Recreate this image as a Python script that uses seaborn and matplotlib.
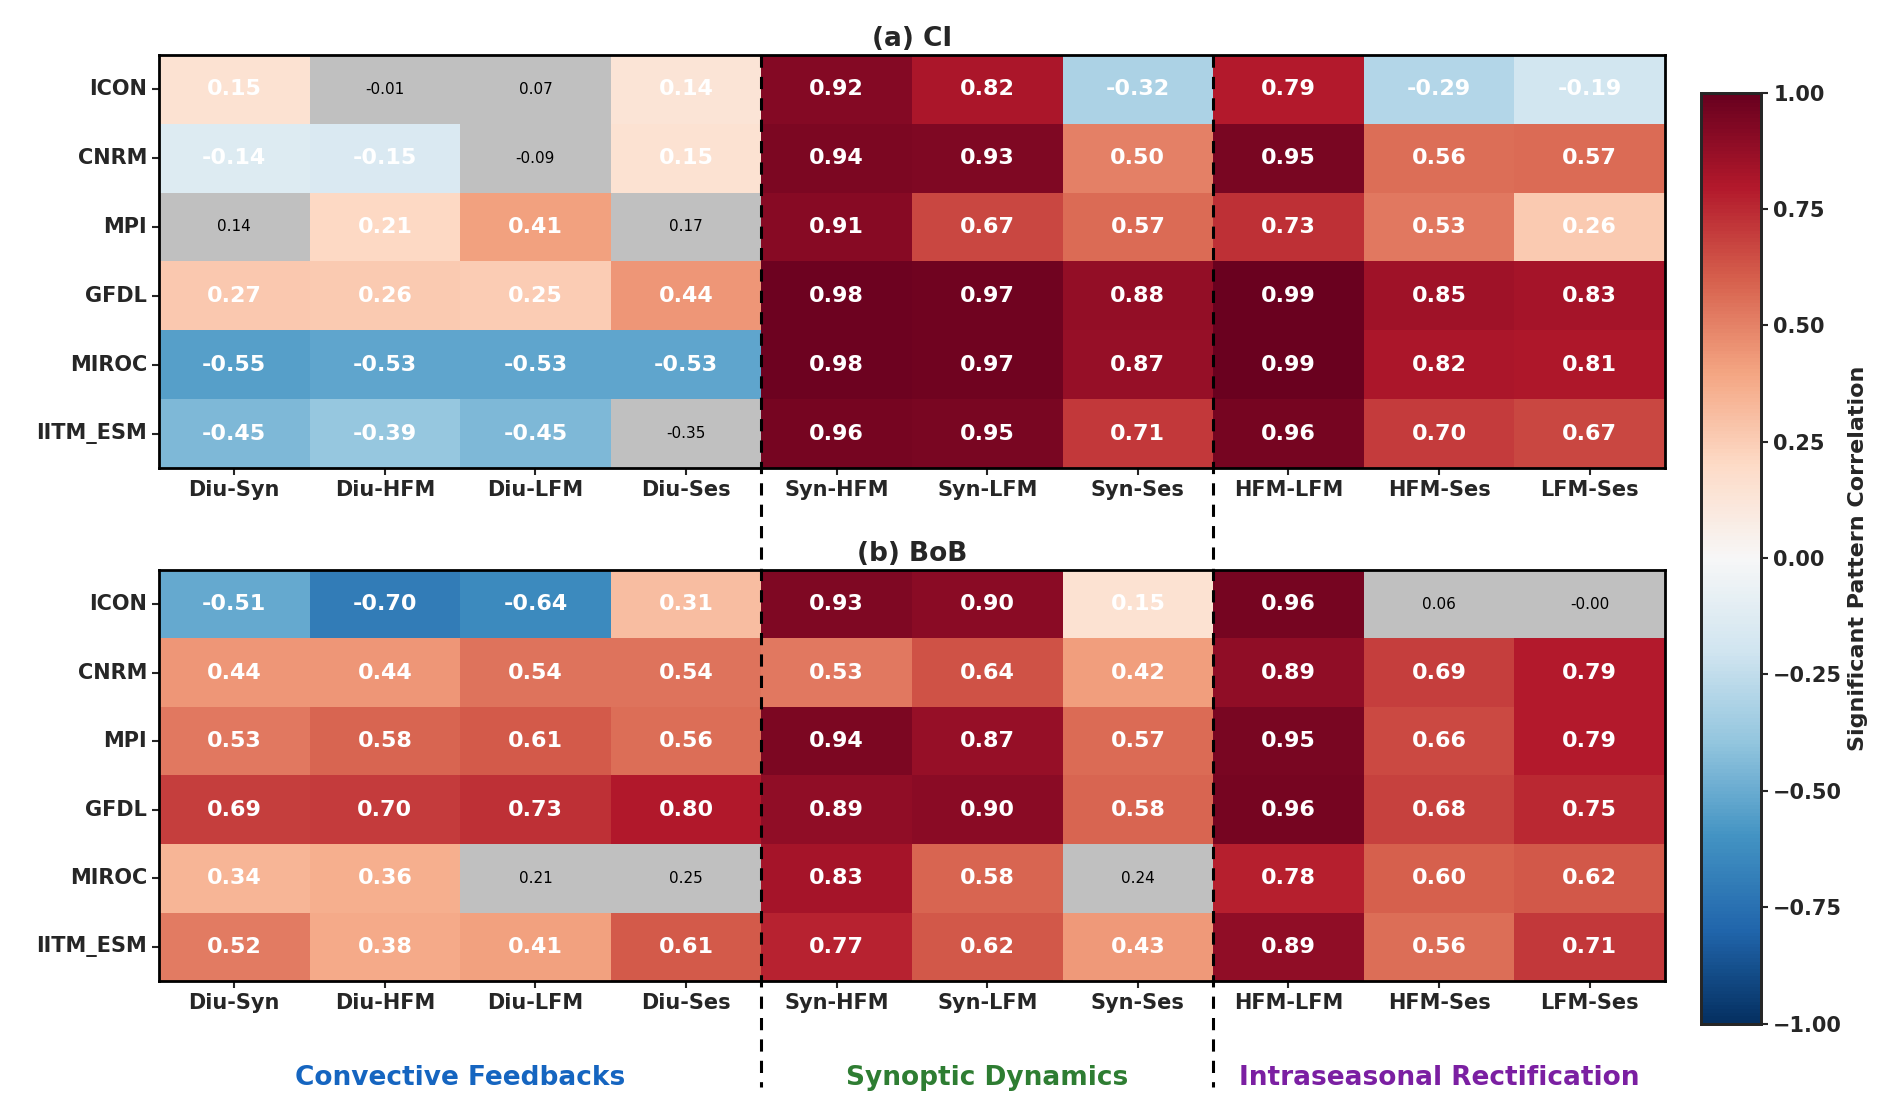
import numpy as np
import pandas as pd
import matplotlib
matplotlib.use("Agg")
import matplotlib.pyplot as plt
import matplotlib.transforms as mtransforms
from matplotlib.lines import Line2D
import seaborn as sns

MODELS = ["ICON", "CNRM", "MPI", "GFDL", "MIROC", "IITM_ESM"]
PAIRS = ["Diu-Syn", "Diu-HFM", "Diu-LFM", "Diu-Ses", "Syn-HFM", "Syn-LFM",
         "Syn-Ses", "HFM-LFM", "HFM-Ses", "LFM-Ses"]

CI_VALUES = [
    [0.15, -0.01, 0.07, 0.14, 0.92, 0.82, -0.32, 0.79, -0.29, -0.19],
    [-0.14, -0.15, -0.09, 0.15, 0.94, 0.93, 0.50, 0.95, 0.56, 0.57],
    [0.14, 0.21, 0.41, 0.17, 0.91, 0.67, 0.57, 0.73, 0.53, 0.26],
    [0.27, 0.26, 0.25, 0.44, 0.98, 0.97, 0.88, 0.99, 0.85, 0.83],
    [-0.55, -0.53, -0.53, -0.53, 0.98, 0.97, 0.87, 0.99, 0.82, 0.81],
    [-0.45, -0.39, -0.45, -0.35, 0.96, 0.95, 0.71, 0.96, 0.70, 0.67],
]
CI_SIG = [
    [1, 0, 0, 1, 1, 1, 1, 1, 1, 1],
    [1, 1, 0, 1, 1, 1, 1, 1, 1, 1],
    [0, 1, 1, 0, 1, 1, 1, 1, 1, 1],
    [1, 1, 1, 1, 1, 1, 1, 1, 1, 1],
    [1, 1, 1, 1, 1, 1, 1, 1, 1, 1],
    [1, 1, 1, 0, 1, 1, 1, 1, 1, 1],
]
BOB_VALUES = [
    [-0.51, -0.70, -0.64, 0.31, 0.93, 0.90, 0.15, 0.96, 0.06, -0.00],
    [0.44, 0.44, 0.54, 0.54, 0.53, 0.64, 0.42, 0.89, 0.69, 0.79],
    [0.53, 0.58, 0.61, 0.56, 0.94, 0.87, 0.57, 0.95, 0.66, 0.79],
    [0.69, 0.70, 0.73, 0.80, 0.89, 0.90, 0.58, 0.96, 0.68, 0.75],
    [0.34, 0.36, 0.21, 0.25, 0.83, 0.58, 0.24, 0.78, 0.60, 0.62],
    [0.52, 0.38, 0.41, 0.61, 0.77, 0.62, 0.43, 0.89, 0.56, 0.71],
]
BOB_SIG = [
    [1, 1, 1, 1, 1, 1, 1, 1, 0, 0],
    [1, 1, 1, 1, 1, 1, 1, 1, 1, 1],
    [1, 1, 1, 1, 1, 1, 1, 1, 1, 1],
    [1, 1, 1, 1, 1, 1, 1, 1, 1, 1],
    [1, 1, 0, 0, 1, 1, 0, 1, 1, 1],
    [1, 1, 1, 1, 1, 1, 1, 1, 1, 1],
]
GROUPS = ["Convective Feedbacks", "Synoptic Dynamics", "Intraseasonal Rectification"]
GROUP_CENTERS = [2.0, 5.5, 8.5]
GROUP_COLORS = ["#1565c0", "#2e7d32", "#7b1fa2"]

sns.set_style("white")
plt.rcParams["font.family"] = ["DejaVu Sans"]

fig = plt.figure(figsize=(18.92, 11.15), dpi=100)
ax_a = fig.add_axes([0.084, 0.580, 0.796, 0.371])
ax_b = fig.add_axes([0.084, 0.120, 0.796, 0.369])
cax = fig.add_axes([0.899, 0.082, 0.032, 0.835])


def draw_panel(ax, values, sig, title, cbar):
    vals = pd.DataFrame(values, index=MODELS, columns=PAIRS)
    sigm = np.array(sig, dtype=bool)
    ax.set_facecolor("#c0c0c0")
    sns.heatmap(vals, mask=~sigm, cmap="RdBu_r", vmin=-1, vmax=1, ax=ax,
                cbar=cbar, cbar_ax=cax if cbar else None)
    for i in range(len(MODELS)):
        for j in range(len(PAIRS)):
            v = values[i][j]
            if sigm[i, j]:
                ax.text(j + 0.5, i + 0.5, f"{v:.2f}", ha="center", va="center",
                        color="white", fontsize=16, fontweight="bold")
            else:
                ax.text(j + 0.5, i + 0.5, f"{v:.2f}", ha="center", va="center",
                        color="black", fontsize=11)
    ax.set_title(title, fontsize=19, fontweight="bold", pad=6)
    ax.tick_params(axis="both", length=5, width=1.5, left=True, bottom=True)
    ax.set_xticklabels(PAIRS, rotation=0, fontsize=15, fontweight="bold")
    ax.set_yticklabels(MODELS, rotation=0, fontsize=15, fontweight="bold")
    ax.set_xlabel("")
    ax.set_ylabel("")
    for s in ax.spines.values():
        s.set_visible(True)
        s.set_linewidth(2)
        s.set_color("black")


draw_panel(ax_a, CI_VALUES, CI_SIG, "(a) CI", True)
draw_panel(ax_b, BOB_VALUES, BOB_SIG, "(b) BoB", False)

cax.set_ylabel("Significant Pattern Correlation", fontsize=16, fontweight="bold")
cax.set_yticks([-1, -0.75, -0.5, -0.25, 0, 0.25, 0.5, 0.75, 1])
cax.set_yticklabels([f"{t:.2f}".replace("-", "\u2212") for t in
                     [-1, -0.75, -0.5, -0.25, 0, 0.25, 0.5, 0.75, 1]],
                    fontsize=15, fontweight="bold")
cax.tick_params(length=5, width=1.5)
for s in cax.spines.values():
    s.set_visible(True)
    s.set_linewidth(2)

trans = mtransforms.blended_transform_factory(ax_b.transData, fig.transFigure)
for xb in [4, 7]:
    fig.add_artist(Line2D([xb, xb], [0.951, 0.025], transform=trans,
                          color="black", lw=2.2, ls=(0, (4, 3))))
for name, xc, col in zip(GROUPS, GROUP_CENTERS, GROUP_COLORS):
    fig.text(xc, 0.033, name, transform=trans, ha="center", va="center",
             fontsize=19, fontweight="bold", color=col)

fig.savefig("out.png", dpi=100)
